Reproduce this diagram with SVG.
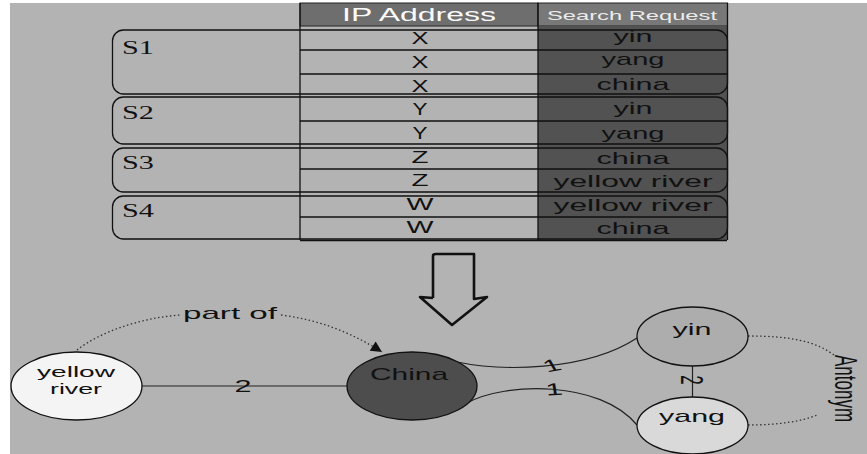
<svg xmlns="http://www.w3.org/2000/svg" width="867" height="454" viewBox="0 0 867 454">
<defs>
<style>
.t{font-family:"Liberation Sans",Arial,sans-serif;font-size:17px;fill:#111}
.s{font-family:"Liberation Serif","DejaVu Serif",serif;font-size:18px;fill:#111}
.ln{stroke:#111;stroke-width:1.3;fill:none}
.grp{stroke:#111;stroke-width:1.3;fill:none}
.edge{stroke:#222;stroke-width:1.2;fill:none}
.dot{stroke:#333;stroke-width:1.3;fill:none;stroke-dasharray:1.5,2.5}
.node{stroke:#111;stroke-width:1.3}
</style>
<marker id="ah" viewBox="0 0 10 10" refX="10" refY="5" markerWidth="13" markerHeight="11" markerUnits="userSpaceOnUse" orient="auto">
<path d="M0,0 L10,5 L0,10 z" fill="#111"/>
</marker>
</defs>
<rect x="10" y="3" width="857" height="451" fill="#b3b3b3"/>

<g id="table">
<rect x="300" y="3" width="238" height="23" fill="#6e6e6e" stroke="#222" stroke-width="1"/>
<rect x="538" y="3" width="189.5" height="23" fill="#787878" stroke="#222" stroke-width="1"/>
<rect x="538" y="26" width="189.5" height="214" fill="#525252"/>
<text class="t" x="419" y="20.5" text-anchor="middle" style="fill:#fafafa;font-size:18px" textLength="154" lengthAdjust="spacingAndGlyphs">IP Address</text>
<text class="t" x="632" y="20" text-anchor="middle" style="fill:#ececec;font-size:13.5px" textLength="170" lengthAdjust="spacingAndGlyphs">Search Request</text>
<line class="ln" x1="300" y1="3" x2="300" y2="240"/>
<line class="ln" x1="538" y1="3" x2="538" y2="240"/>
<line class="ln" x1="727.5" y1="3" x2="727.5" y2="240"/>
<line class="ln" x1="300" y1="50" x2="727" y2="50"/>
<line class="ln" x1="300" y1="74" x2="727" y2="74"/>
<line class="ln" x1="300" y1="121" x2="727" y2="121"/>
<line class="ln" x1="300" y1="169" x2="727" y2="169"/>
<line class="ln" x1="300" y1="217" x2="727" y2="217"/>
<line class="ln" x1="300" y1="240.5" x2="727" y2="240.5"/>
<g id="group-S1"><rect class="grp" x="112.5" y="30" width="615" height="64" rx="11"/><text class="s" font-family="Liberation Serif, serif" x="122" y="54" textLength="32" lengthAdjust="spacingAndGlyphs">S1</text></g>
<g id="group-S2"><rect class="grp" x="112.5" y="97" width="615" height="47" rx="11"/><text class="s" font-family="Liberation Serif, serif" x="122" y="119" textLength="32" lengthAdjust="spacingAndGlyphs">S2</text></g>
<g id="group-S3"><rect class="grp" x="112.5" y="148" width="615" height="44" rx="11"/><text class="s" font-family="Liberation Serif, serif" x="122" y="168.5" textLength="32" lengthAdjust="spacingAndGlyphs">S3</text></g>
<g id="group-S4"><rect class="grp" x="112.5" y="196" width="615" height="43" rx="11"/><text class="s" font-family="Liberation Serif, serif" x="122" y="216.5" textLength="32" lengthAdjust="spacingAndGlyphs">S4</text></g>
<g text-anchor="middle">
<text class="t" x="420" y="43.5" textLength="17" lengthAdjust="spacingAndGlyphs">X</text>
<text class="t" x="420" y="68" textLength="17" lengthAdjust="spacingAndGlyphs">X</text>
<text class="t" x="420" y="91.5" textLength="17" lengthAdjust="spacingAndGlyphs">X</text>
<text class="t" x="420" y="115" textLength="15" lengthAdjust="spacingAndGlyphs">Y</text>
<text class="t" x="420" y="138.5" textLength="15" lengthAdjust="spacingAndGlyphs">Y</text>
<text class="t" x="420" y="163" textLength="17" lengthAdjust="spacingAndGlyphs">Z</text>
<text class="t" x="420" y="185.5" textLength="17" lengthAdjust="spacingAndGlyphs">Z</text>
<text class="t" x="420" y="210" textLength="27" lengthAdjust="spacingAndGlyphs">W</text>
<text class="t" x="420" y="233" textLength="27" lengthAdjust="spacingAndGlyphs">W</text>
<text class="t" x="633" y="41.5" textLength="39" lengthAdjust="spacingAndGlyphs">yin</text>
<text class="t" x="633" y="65" textLength="63" lengthAdjust="spacingAndGlyphs">yang</text>
<text class="t" x="633" y="90" textLength="73" lengthAdjust="spacingAndGlyphs">china</text>
<text class="t" x="633" y="113.5" textLength="39" lengthAdjust="spacingAndGlyphs">yin</text>
<text class="t" x="633" y="138.5" textLength="63" lengthAdjust="spacingAndGlyphs">yang</text>
<text class="t" x="633" y="163.5" textLength="73" lengthAdjust="spacingAndGlyphs">china</text>
<text class="t" x="633" y="187" textLength="159" lengthAdjust="spacingAndGlyphs">yellow river</text>
<text class="t" x="633" y="211" textLength="159" lengthAdjust="spacingAndGlyphs">yellow river</text>
<text class="t" x="633" y="233.5" textLength="73" lengthAdjust="spacingAndGlyphs">china</text>
</g>
</g>

<g id="down-arrow">
<path d="M433,298 L433,256 Q433,254 436,254 L474,254 L474,299 L487,297 L452,325 L420,297 L433,298" fill="none" stroke="#111" stroke-width="2.6" stroke-linejoin="round"/>
</g>

<g id="connectors">
<line class="edge" x1="142" y1="386" x2="347" y2="386"/>
<text class="t" x="243" y="392" text-anchor="middle" textLength="17" lengthAdjust="spacingAndGlyphs">2</text>
<path class="dot" d="M77,350 C100,332 140,318 180,315"/>
<path class="dot" d="M281,315 C320,320 352,333 382,352" marker-end="url(#ah)"/>
<text class="t" x="230" y="319" text-anchor="middle" textLength="94" lengthAdjust="spacingAndGlyphs">part of</text>
<path class="edge" d="M457,362 C500,371 585,372 637,338"/>
<text class="t" transform="translate(555,371) scale(1.8,1) rotate(-18)" text-anchor="middle">1</text>
<path class="edge" d="M467,403 C505,382 600,380 637,425"/>
<text class="t" transform="translate(555,395) scale(1.8,1) rotate(-5)" text-anchor="middle">1</text>
<line class="edge" x1="692.5" y1="366" x2="692.5" y2="397"/>
<text class="t" transform="translate(681,380) scale(1.8,1) rotate(90)" text-anchor="middle">2</text>
<path class="dot" d="M748,336 C790,336 815,341 834,355"/>
<path class="dot" d="M748,425 C780,425 803,421 817,415"/>
<text class="t" transform="translate(835,355) scale(1.85,1) rotate(90)">Antonym</text>
</g>

<g id="node-yellow-river">
<ellipse class="node" cx="76.5" cy="386" rx="65.5" ry="34" fill="#f4f4f4"/>
<text class="t" x="76" y="377" text-anchor="middle" style="font-size:15px" textLength="78" lengthAdjust="spacingAndGlyphs">yellow</text>
<text class="t" x="76" y="394" text-anchor="middle" style="font-size:15px" textLength="52" lengthAdjust="spacingAndGlyphs">river</text>
</g>
<g id="node-china">
<ellipse class="node" cx="412" cy="386" rx="65" ry="34" fill="#4d4d4d"/>
<text class="t" x="409" y="380" text-anchor="middle" textLength="78" lengthAdjust="spacingAndGlyphs">China</text>
</g>
<g id="node-yin">
<ellipse class="node" cx="692.5" cy="336.5" rx="55.5" ry="29.5" fill="#adadad"/>
<text class="t" x="692" y="335" text-anchor="middle" textLength="39" lengthAdjust="spacingAndGlyphs">yin</text>
</g>
<g id="node-yang">
<ellipse class="node" cx="692.5" cy="425.5" rx="55.5" ry="28.5" fill="#d9d9d9"/>
<text class="t" x="692" y="421.5" text-anchor="middle" textLength="66" lengthAdjust="spacingAndGlyphs">yang</text>
</g>
</svg>
